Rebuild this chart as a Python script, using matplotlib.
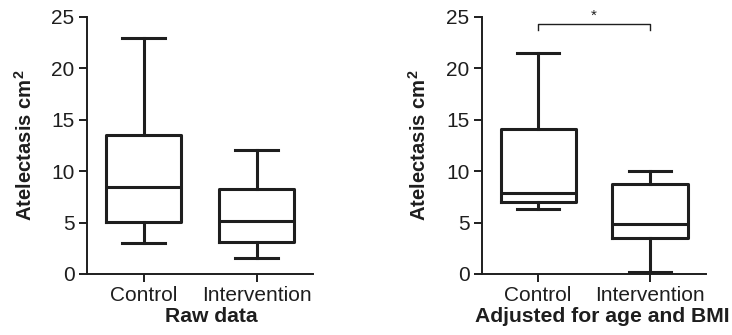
import matplotlib
matplotlib.use("Agg")
import matplotlib.pyplot as plt

plt.rcParams["font.family"] = ["Liberation Sans", "DejaVu Sans"]

# Box plot summaries (whisker low, Q1, median, Q3, whisker high)
groups = ["Control", "Intervention"]

raw_low = [3.0, 1.6]
raw_q1 = [5.1, 3.1]
raw_med = [8.45, 5.2]
raw_q3 = [13.5, 8.25]
raw_high = [23.0, 12.1]

adj_low = [6.35, 0.15]
adj_q1 = [7.05, 3.5]
adj_med = [7.9, 4.85]
adj_q3 = [14.15, 8.75]
adj_high = [21.5, 10.05]

panel_titles = ["Raw data", "Adjusted for age and BMI"]
y_ticks = [0, 5, 10, 15, 20, 25]

dark = "#1e1e1e"


def make_stats(low, q1, med, q3, high):
    stats = []
    for i in range(len(groups)):
        stats.append({"whislo": low[i], "q1": q1[i], "med": med[i],
                      "q3": q3[i], "whishi": high[i], "fliers": [],
                      "label": groups[i]})
    return stats


fig = plt.figure(figsize=(7.32, 3.35), dpi=100)
ax1 = fig.add_axes([0.1189, 0.1821, 0.3087, 0.7672])
ax2 = fig.add_axes([0.6585, 0.1821, 0.3060, 0.7672])

all_stats = [make_stats(raw_low, raw_q1, raw_med, raw_q3, raw_high),
             make_stats(adj_low, adj_q1, adj_med, adj_q3, adj_high)]
label_x = [0.549, 0.536]
ylabel_x = [-0.274, -0.281]

for ax, stats, title, lx, yx in zip([ax1, ax2], all_stats, panel_titles,
                                    label_x, ylabel_x):
    line_kw = dict(color=dark, linewidth=2.2)
    ax.bxp(stats, positions=[1, 2], widths=0.67, showfliers=False,
           boxprops=line_kw, medianprops=line_kw, whiskerprops=line_kw,
           capprops=line_kw, capwidths=0.38)
    ax.set_xlim(0.5, 2.5)
    ax.set_ylim(0, 25)
    ax.set_yticks(y_ticks)
    ax.spines["top"].set_visible(False)
    ax.spines["right"].set_visible(False)
    for s in ["left", "bottom"]:
        ax.spines[s].set_linewidth(1.4)
        ax.spines[s].set_color(dark)
    ax.tick_params(axis="both", labelsize=15, width=1.4, length=6,
                   color=dark, labelcolor=dark, pad=3)
    ax.set_ylabel("Atelectasis cm$^\\mathregular{2}$", fontsize=14.6,
                  fontweight="bold", color=dark)
    ax.yaxis.label.set_va("center")
    ax.yaxis.set_label_coords(yx, 0.5)
    ax.set_xlabel(title, fontsize=15.2, fontweight="bold", color=dark)
    ax.xaxis.label.set_va("baseline")
    ax.xaxis.set_label_coords(lx, -0.187)

# significance bracket on the adjusted panel
ax2.plot([1, 1, 2, 2], [23.7, 24.3, 24.3, 23.7], color=dark, linewidth=1.0,
         clip_on=False)
ax2.text(1.5, 24.45, "*", ha="center", va="bottom", fontsize=11, color=dark)

fig.savefig("out.png", dpi=100)
